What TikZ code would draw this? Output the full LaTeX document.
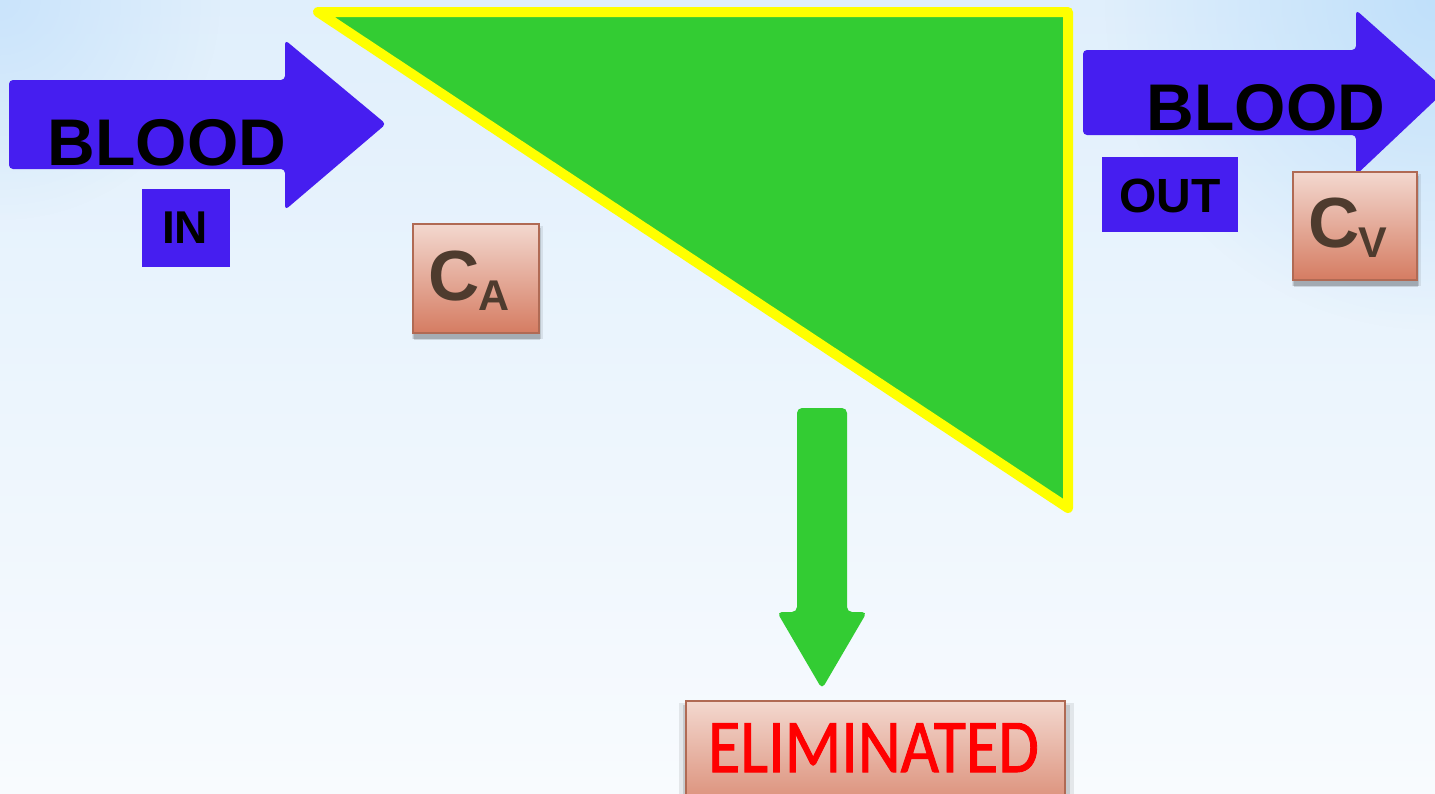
\documentclass[tikz,border=0pt]{standalone}
\usepackage{fontspec}
\setmainfont{Liberation Sans}
\newfontfamily\elimfont[FakeBold=1.3]{Carlito}
\usetikzlibrary{shadows,fadings}
\tikzfading[name=softspot, inner color=transparent!0, outer color=transparent!100]
\definecolor{bluearrow}{RGB}{70,30,240}
\definecolor{greenfill}{RGB}{51,204,51}
\definecolor{yelline}{RGB}{255,255,0}
\definecolor{boxtop}{RGB}{243,216,207}
\definecolor{boxbot}{RGB}{213,124,98}
\definecolor{boxedge}{RGB}{176,106,84}
\definecolor{ctext}{RGB}{78,59,46}
\definecolor{bgtop}{RGB}{224,239,252}
\definecolor{bgbot}{RGB}{248,251,254}
\definecolor{bgcorner}{RGB}{192,224,250}
\tikzset{
  labbox/.style={draw=boxedge, line width=1.5pt, top color=boxtop, bottom color=boxbot, inner sep=0pt,
    drop shadow={shadow xshift=1pt, shadow yshift=-7pt, opacity=0.12, fill=black},
    drop shadow={shadow xshift=1pt, shadow yshift=-5pt, shadow scale=1.02, opacity=0.12, fill=black},
    drop shadow={shadow xshift=1pt, shadow yshift=-4pt, shadow scale=1.04, opacity=0.08, fill=black}},
  bluebox/.style={fill=bluearrow, inner sep=0pt},
  bluearr/.style={fill=bluearrow, rounded corners=4pt},
  bigtxt/.style={inner sep=0pt, font=\fontsize{66}{66}\selectfont\bfseries},
  smalltxt/.style={inner sep=0pt, font=\fontsize{46}{46}\selectfont\bfseries},
  cbig/.style={inner sep=0pt, text=ctext, font=\fontsize{71}{71}\selectfont\bfseries},
  csub/.style={inner sep=0pt, text=ctext, font=\fontsize{43}{43}\selectfont\bfseries},
}
\begin{document}
\begin{tikzpicture}[x=1pt,y=-1pt]
\useasboundingbox (0,0) rectangle (1435,793);
% background
\fill[top color=bgtop, bottom color=bgbot] (0,0) rectangle (1435,793);
\fill[bgcorner, path fading=softspot] (1435,0) circle (330);
\fill[bgcorner!70!bgtop, path fading=softspot] (0,0) circle (220);
% triangle
\draw[line width=10pt, draw=yelline, fill=greenfill, line join=round] (318,12) -- (1068,12) -- (1068,508) -- cycle;
% left arrow
\fill[bluearr] (9,80) -- (285,80) -- (285,40) -- (386,124) -- (285,210) -- (285,169) -- (9,169) -- cycle;
\node[bigtxt, anchor=base] (bloodin) at (167,165) {BLOOD};
\node[bluebox, minimum width=88pt, minimum height=78pt] (inbox) at (186,228) {};
\node[smalltxt, anchor=base] (intxt) at (185,243) {IN};
% right arrow
\fill[bluearr] (1083,50) -- (1356,50) -- (1356,10) -- (1446,90) -- (1356,175) -- (1356,135) -- (1083,135) -- cycle;
\node[bigtxt, anchor=base] (bloodout) at (1266,130) {BLOOD};
\node[bluebox, minimum width=136pt, minimum height=75pt] (outbox) at (1170,194.5) {};
\node[smalltxt, font=\fontsize{48}{48}\selectfont\bfseries, anchor=base] (outtxt) at (1170,212) {OUT};
% C_A box
\node[labbox, minimum width=126pt, minimum height=109pt] (cabox) at (476,278.5) {};
\node[cbig, anchor=base west] (ca) at (428,300) {C};
\node[csub, anchor=base west] (casub) at (478,310) {A};
% C_V box
\node[labbox, minimum width=124pt, minimum height=108pt] (cvbox) at (1355,226) {};
\node[cbig, anchor=base west] (cv) at (1308,247) {C};
\node[csub, anchor=base west] (cvsub) at (1358,257) {V};
% green arrow
\fill[greenfill, rounded corners=5pt] (797,408) -- (847,408) -- (847,612) -- (867,612) -- (822,689) -- (777,612) -- (797,612) -- cycle;
% eliminated box
\node[labbox, minimum width=379pt, minimum height=130pt] (elimbox) at (875.5,766) {};
\node[inner sep=0pt, anchor=base, text=red, font=\elimfont\fontsize{76}{76}\selectfont] (elimtxt) at (873.5,772) {\scalebox{0.87}[1]{ELIMINATED}};
\end{tikzpicture}
\end{document}
